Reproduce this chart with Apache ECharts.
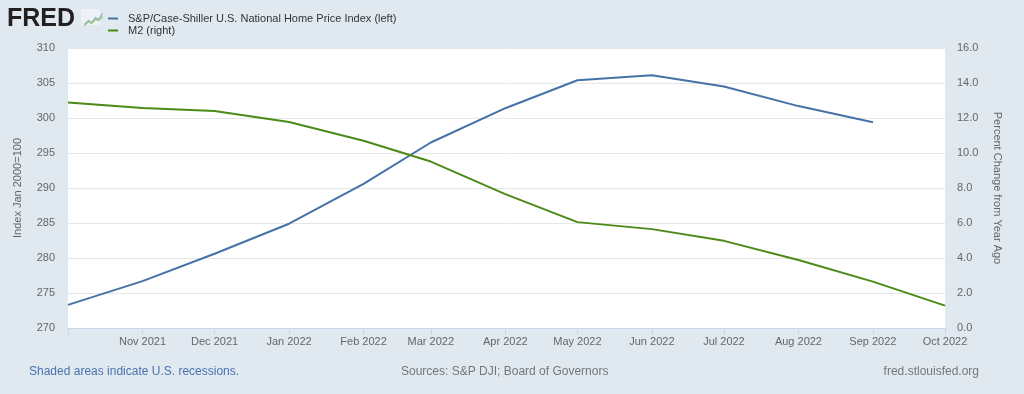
<!DOCTYPE html>
<html>
<head>
<meta charset="utf-8">
<script src="https://cdn.jsdelivr.net/npm/echarts@6/dist/echarts.min.js"></script>
<style>
html,body{margin:0;padding:0;background:#e1e9f0;}
#chart{width:1024px;height:394px;}
</style>
</head>
<body>
<div id="chart"></div>
<script>
// ---- data ----
const csDates = ['2021-10-01','2021-11-01','2021-12-01','2022-01-01','2022-02-01','2022-03-01','2022-04-01','2022-05-01','2022-06-01','2022-07-01','2022-08-01','2022-09-01'];
const csValues = [273.3, 276.7, 280.6, 284.9, 290.6, 296.5, 301.4, 305.4, 306.1, 304.5, 301.7, 299.4];
const m2Dates = ['2021-10-01','2021-11-01','2021-12-01','2022-01-01','2022-02-01','2022-03-01','2022-04-01','2022-05-01','2022-06-01','2022-07-01','2022-08-01','2022-09-01','2022-10-01'];
const m2Values = [12.89, 12.57, 12.40, 11.77, 10.70, 9.51, 7.65, 6.05, 5.65, 4.98, 3.89, 2.65, 1.28];
const seriesNames = ['S&P/Case-Shiller U.S. National Home Price Index (left)', 'M2 (right)'];
const leftAxisName = 'Index Jan 2000=100';
const rightAxisName = 'Percent Change from Year Ago';
const monthNames = ['Jan','Feb','Mar','Apr','May','Jun','Jul','Aug','Sep','Oct','Nov','Dec'];
const xMin = '2021-10-01';
const xMax = '2022-10-01';

const FONT = '"Liberation Sans", Arial, sans-serif';
const chart = echarts.init(document.getElementById('chart'));
const xMinTs = new Date(xMin + 'T00:00:00').getTime();

function toPairs(d, v){ return d.map((x,i)=>[x, v[i]]); }

chart.setOption({
  backgroundColor: '#e1e9f0',
  animation: false,
  textStyle: { fontFamily: FONT },
  grid: { left: 68, right: 79, top: 48, bottom: 66, show: true, backgroundColor: '#ffffff', borderWidth: 0 },
  legend: {
    orient: 'vertical', left: 103, top: 8, itemGap: 1,
    itemWidth: 10, itemHeight: 2, icon: 'rect',
    textStyle: { fontSize: 11, color: '#333', fontFamily: FONT, lineHeight: 11, padding: [0,0,0,5] },
    data: seriesNames
  },
  xAxis: {
    type: 'time',
    min: xMin, max: xMax,
    splitNumber: 12,
    axisLine: { show: true, lineStyle: { color: '#ccd6eb' } },
    axisTick: { show: true, length: 7, lineStyle: { color: '#ccd6eb' } },
    splitLine: { show: false },
    axisLabel: {
      color: '#666', fontSize: 11, fontFamily: FONT, margin: 8,
      formatter: function(v){ if (v <= xMinTs + 86400000) return ''; const d = new Date(v); return monthNames[d.getMonth()] + ' ' + d.getFullYear(); }
    }
  },
  yAxis: [
    {
      type: 'value', min: 270, max: 310, interval: 5, position: 'left',
      name: leftAxisName, nameLocation: 'middle', nameGap: 45, nameRotate: 90,
      nameTextStyle: { color: '#666', fontSize: 11, fontFamily: FONT },
      axisLine: { show: false }, axisTick: { show: false },
      splitLine: { show: true, lineStyle: { color: '#e6e6e6', width: 1 } },
      axisLabel: { color: '#666', fontSize: 11, fontFamily: FONT, margin: 13 }
    },
    {
      type: 'value', min: 0, max: 16, interval: 2, position: 'right',
      name: rightAxisName, nameLocation: 'middle', nameGap: 47, nameRotate: -90,
      nameTextStyle: { color: '#666', fontSize: 11, fontFamily: FONT },
      axisLine: { show: false }, axisTick: { show: false },
      splitLine: { show: false },
      axisLabel: { color: '#666', fontSize: 11, fontFamily: FONT, margin: 12, formatter: v => v.toFixed(1) }
    }
  ],
  series: [
    {
      name: seriesNames[0], type: 'line', yAxisIndex: 0,
      data: toPairs(csDates, csValues),
      showSymbol: false, symbol: 'none',
      lineStyle: { color: '#4572a7', width: 2 }, itemStyle: { color: '#4572a7' }
    },
    {
      name: seriesNames[1], type: 'line', yAxisIndex: 1,
      data: toPairs(m2Dates, m2Values),
      showSymbol: false, symbol: 'none',
      lineStyle: { color: '#4b8a16', width: 2 }, itemStyle: { color: '#4b8a16' }
    }
  ],
  graphic: [
    { type: 'text', left: 7, top: 7, style: { text: 'FRED', font: 'bold 25px ' + FONT, fill: '#231f20' } },
    { type: 'rect', left: 81, top: 9, shape: { width: 19, height: 16 }, style: { fill: '#eef2f6' } },
    { type: 'polyline', left: 82, top: 11, shape: { points: [[0,11],[4,7],[7,9],[11,4],[14,6],[18,0]] }, style: { stroke: '#86a9cf', lineWidth: 1.2, fill: null } },
    { type: 'polyline', left: 82, top: 14, shape: { points: [[0,10],[4,6],[7,8],[11,4],[14,5],[18,1]] }, style: { stroke: '#9bc36b', lineWidth: 1.2, fill: null } },
    { type: 'text', left: 29, top: 366, style: { text: 'Shaded areas indicate U.S. recessions.', font: '12px ' + FONT, fill: '#4a72b0' } },
    { type: 'text', left: 401, top: 366, style: { text: 'Sources: S&P DJI; Board of Governors', font: '12px ' + FONT, fill: '#777' } },
    { type: 'text', right: 45, top: 366, style: { text: 'fred.stlouisfed.org', font: '12px ' + FONT, fill: '#777' } }
  ]
});
</script>
</body>
</html>
